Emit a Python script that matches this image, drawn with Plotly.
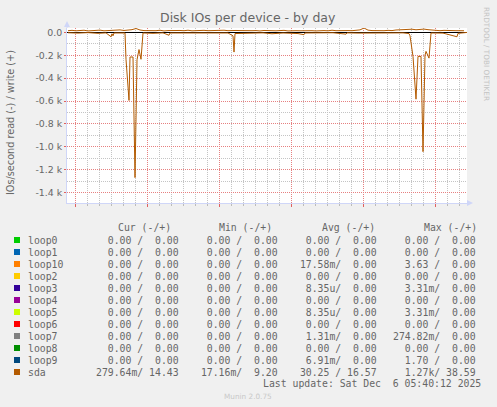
import pandas as pd
import plotly.graph_objects as go

# ---------------- data ----------------
title_text = "Disk IOs per device - by day"
y_title = "IOs/second read (-) / write (+)"

x_range = ["2025-12-04 20:20", "2025-12-06 05:40"]

read_times = [
    "2025-12-04 20:25", "2025-12-04 21:15", "2025-12-04 22:05", "2025-12-04 22:55",
    "2025-12-04 23:35", "2025-12-04 23:55", "2025-12-05 00:00", "2025-12-05 00:05",
    "2025-12-05 00:10", "2025-12-05 00:15", "2025-12-05 00:45", "2025-12-05 01:10",
    "2025-12-05 01:15", "2025-12-05 01:30", "2025-12-05 01:35", "2025-12-05 01:50",
    "2025-12-05 02:00", "2025-12-05 02:10", "2025-12-05 02:20", "2025-12-05 02:30",
    "2025-12-05 02:40", "2025-12-05 03:30", "2025-12-05 04:20", "2025-12-05 04:50",
    "2025-12-05 04:55", "2025-12-05 06:00", "2025-12-05 07:15", "2025-12-05 08:30",
    "2025-12-05 09:45", "2025-12-05 10:10", "2025-12-05 10:15", "2025-12-05 10:20",
    "2025-12-05 11:25", "2025-12-05 12:40", "2025-12-05 13:25", "2025-12-05 14:20",
    "2025-12-05 15:35", "2025-12-05 16:05", "2025-12-05 16:10", "2025-12-05 17:15",
    "2025-12-05 18:30", "2025-12-05 19:35", "2025-12-05 19:40", "2025-12-05 20:35",
    "2025-12-05 21:50", "2025-12-05 23:05", "2025-12-06 00:20", "2025-12-06 00:50",
    "2025-12-06 00:55", "2025-12-06 01:10", "2025-12-06 01:25", "2025-12-06 01:35",
    "2025-12-06 01:50", "2025-12-06 02:00", "2025-12-06 02:10", "2025-12-06 02:15",
    "2025-12-06 02:30", "2025-12-06 02:40", "2025-12-06 03:40", "2025-12-06 04:50",
    "2025-12-06 04:55", "2025-12-06 05:40",
]
read_values = [
    -3, -6, -2, -8,
    -4, -30, -38, -12,
    -30, -5, -8, -5,
    -235, -595, -215, -215,
    -1270, -240, -150, -235,
    -5, -8, -4, -25,
    -5, -6, -3, -8,
    -5, -30, -172, -10,
    -6, -4, -12, -5,
    -10, -20, -5, -6,
    -3, -15, -4, -6,
    -5, -8, -4, -10,
    -30, -210, -584, -210,
    -210, -1043, -200, -166,
    -225, -5, -6, -38,
    -8, -0.28,
]

write_start = "2025-12-04 20:25"
write_values = [
    15, 18, 14, 16, 19, 13, 17, 15, 20, 14,
    16, 18, 15, 22, 17, 19, 24, 34, 21, 16,
    14, 17, 15, 19, 13, 16, 18, 14, 17, 15,
    19, 14, 16, 13, 18, 15, 17, 14, 16, 19,
    15, 13, 17, 16, 14, 18, 15, 16, 13, 17,
    15, 19, 14, 16, 18, 13, 17, 15, 14, 16,
    18, 15, 13, 17, 16, 14, 19, 15, 17, 14,
    16, 15, 18, 22, 38.59, 20, 16, 14, 17, 15,
    18, 16, 21, 24, 27, 25, 28, 23, 26, 29,
    24, 19, 17, 15, 18, 14, 16, 15, 17, 14.43,
]
write_times = pd.date_range(write_start, periods=len(write_values), freq="20min")

y_range = [-1492, 38.59]
y_tick_vals = [0, -200, -400, -600, -800, -1000, -1200, -1400]
y_tick_text = ["0.0", "-0.2 k", "-0.4 k", "-0.6 k", "-0.8 k", "-1.0 k", "-1.2 k", "-1.4 k"]

x_label_times = ["2025-12-05 00:00", "2025-12-05 06:00", "2025-12-05 12:00",
                 "2025-12-05 18:00", "2025-12-06 00:00"]
x_label_text = ["Fri 00:00", "Fri 06:00", "Fri 12:00", "Fri 18:00", "Sat 00:00"]
grid_major_start = "2025-12-04 21:00"

devices = ["loop0", "loop1", "loop10", "loop2", "loop3", "loop4",
           "loop5", "loop6", "loop7", "loop8", "loop9", "sda"]
device_colors = ["#00cc00", "#0066b3", "#ff8000", "#ffcc00", "#330099", "#990099",
                 "#ccff00", "#ff0000", "#808080", "#008f00", "#00487d", "#b35a00"]
cur_read = ["0.00"] * 11 + ["279.64m"]
cur_write = ["0.00"] * 11 + ["14.43"]
min_read = ["0.00"] * 11 + ["17.16m"]
min_write = ["0.00"] * 11 + ["9.20"]
avg_read = ["0.00", "0.00", "17.58m", "0.00", "8.35u", "0.00",
            "8.35u", "0.00", "1.31m", "0.00", "6.91m", "30.25"]
avg_write = ["0.00"] * 11 + ["16.57"]
max_read = ["0.00", "0.00", "3.63", "0.00", "3.31m", "0.00",
            "3.31m", "0.00", "274.82m", "0.00", "1.70", "1.27k"]
max_write = ["0.00"] * 11 + ["38.59"]
column_headers = ["Cur (-/+)", "Min (-/+)", "Avg (-/+)", "Max (-/+)"]
last_update = "Last update: Sat Dec  6 05:40:12 2025"
side_text = "RRDTOOL / TOBI OETIKER"
footer_text = "Munin 2.0.75"

# ---------------- styling helpers ----------------
W, H = 497, 407
PL, PR, PT, PB = 67, 467, 28, 203
FONT_COLOR = "#666666"
MONO = "DejaVu Sans Mono"
SANS = "DejaVu Sans"
NB = "\u00a0"


def px(x):
    return (x - PL) / (PR - PL)


def py(y):
    return (PB - y) / (PB - PT)


def cell(r, w):
    rr = r if r[-1].isalpha() else r + " "
    return (rr.rjust(7) + "/" + w.rjust(6)).replace(" ", NB)


fig = go.Figure()
fig.add_trace(go.Scatter(x=read_times, y=read_values, mode="lines",
                         line=dict(color="#b35a00", width=1), hoverinfo="skip",
                         showlegend=False))
fig.add_trace(go.Scatter(x=write_times, y=write_values, mode="lines",
                         line=dict(color="#b35a00", width=1), hoverinfo="skip",
                         showlegend=False))

annotations = []
shapes = []

# title, axis title, side texts
annotations.append(dict(text=title_text, x=px(248), y=py(18), xref="paper", yref="paper",
                        showarrow=False, xanchor="center", yanchor="middle",
                        font=dict(family=SANS, size=12.5, color=FONT_COLOR)))
annotations.append(dict(text=y_title, x=px(10), y=py(123), xref="paper", yref="paper",
                        showarrow=False, xanchor="center", yanchor="middle", textangle=-90,
                        font=dict(family=SANS, size=9.7, color=FONT_COLOR)))
annotations.append(dict(text=side_text, x=px(487), y=py(54), xref="paper", yref="paper",
                        showarrow=False, xanchor="center", yanchor="middle", textangle=90,
                        font=dict(family=SANS, size=7.3, color="#c4c4c4")))
annotations.append(dict(text=footer_text, x=px(248), y=py(396), xref="paper", yref="paper",
                        showarrow=False, xanchor="center", yanchor="middle",
                        font=dict(family=SANS, size=7.3, color="#c8c8c8")))

# legend headers
header_left = [116.5, 218, 321, 423]
for h, xl in zip(column_headers, header_left):
    annotations.append(dict(text=h.replace(" ", NB), x=px(xl), y=py(227.5), xref="paper",
                            yref="paper", showarrow=False, xanchor="left", yanchor="middle",
                            font=dict(family=MONO, size=9.8, color=FONT_COLOR), borderpad=0))

col_right = [179.5, 278.5, 377.5, 477]
for k, dev in enumerate(devices):
    yc = 240 + 12 * k
    shapes.append(dict(type="rect", xref="paper", yref="paper",
                       x0=px(14), x1=px(20), y0=py(yc + 3), y1=py(yc - 3),
                       fillcolor=device_colors[k], line=dict(width=0)))
    annotations.append(dict(text=dev, x=px(26.5), y=py(yc), xref="paper", yref="paper",
                            showarrow=False, xanchor="left", yanchor="middle", borderpad=0,
                            font=dict(family=MONO, size=9.8, color=FONT_COLOR)))
    cells = [cell(cur_read[k], cur_write[k]), cell(min_read[k], min_write[k]),
             cell(avg_read[k], avg_write[k]), cell(max_read[k], max_write[k])]
    for c, xr in zip(cells, col_right):
        annotations.append(dict(text=c, x=px(xr), y=py(yc), xref="paper", yref="paper",
                                showarrow=False, xanchor="right", yanchor="middle",
                                borderpad=0,
                                font=dict(family=MONO, size=9.8, color=FONT_COLOR)))

annotations.append(dict(text=last_update.replace(" ", NB), x=px(482), y=py(383.5),
                        xref="paper", yref="paper", showarrow=False, xanchor="right",
                        yanchor="middle", borderpad=0,
                        font=dict(family=MONO, size=9.8, color=FONT_COLOR)))

# axis arrows
AX = "#cfd6f8"
shapes.append(dict(type="path", xref="paper", yref="paper",
                   path=f"M {px(67)} {py(21)} L {px(64)} {py(27)} L {px(70)} {py(27)} Z",
                   fillcolor=AX, line=dict(width=0)))
shapes.append(dict(type="line", xref="paper", yref="paper",
                   x0=px(67), x1=px(67), y0=py(PT), y1=py(26), line=dict(color=AX, width=1)))
shapes.append(dict(type="path", xref="paper", yref="paper",
                   path=f"M {px(473)} {py(203)} L {px(467)} {py(200)} L {px(467)} {py(206)} Z",
                   fillcolor=AX, line=dict(width=0)))

GRID_MINOR = "#c4c4c4"
GRID_MAJOR = "#e68080"

fig.update_layout(
    width=W, height=H, autosize=False,
    margin=dict(l=PL, r=W - PR, t=PT, b=H - PB, pad=0),
    paper_bgcolor="#f0f0f0", plot_bgcolor="#ffffff",
    showlegend=False,
    annotations=annotations, shapes=shapes,
    xaxis=dict(type="date", range=x_range, showticklabels=False,
               showgrid=True, gridcolor=GRID_MAJOR, griddash="1px,1px", gridwidth=1,
               tick0=grid_major_start, dtick=6 * 3600000,
               ticks="outside", ticklen=3, tickcolor="#e06060",
               minor=dict(tick0=grid_major_start, dtick=3600000, showgrid=True,
                          gridcolor=GRID_MINOR, griddash="1px,1px", gridwidth=1,
                          ticks="outside", ticklen=2, tickcolor="#bbbbbb"),
               showline=True, linecolor=AX, linewidth=1, zeroline=False, fixedrange=True),
    xaxis2=dict(type="date", range=x_range, overlaying="x", anchor="y", side="bottom",
                tickmode="array", tickvals=x_label_times, ticktext=x_label_text,
                showgrid=False, ticks="", showline=False, zeroline=False,
                tickfont=dict(family=SANS, size=9.4, color=FONT_COLOR), fixedrange=True),
    yaxis=dict(range=y_range, tickmode="array", tickvals=y_tick_vals, ticktext=y_tick_text,
               showgrid=True, gridcolor=GRID_MAJOR, griddash="1px,1px", gridwidth=1,
               minor=dict(tickmode="linear", tick0=0, dtick=100, showgrid=True,
                          gridcolor=GRID_MINOR, griddash="1px,1px", gridwidth=1),
               ticks="outside", ticklen=2, tickcolor="#e06060",
               tickfont=dict(family=SANS, size=9.4, color=FONT_COLOR),
               showline=True, linecolor=AX, linewidth=1,
               zeroline=True, zerolinecolor="#000000", zerolinewidth=1, fixedrange=True),
)

fig.write_html(
    "out.html",
    config={"displayModeBar": False},
    post_script="document.body.style.margin='0';document.body.style.background='#f0f0f0';",
)
